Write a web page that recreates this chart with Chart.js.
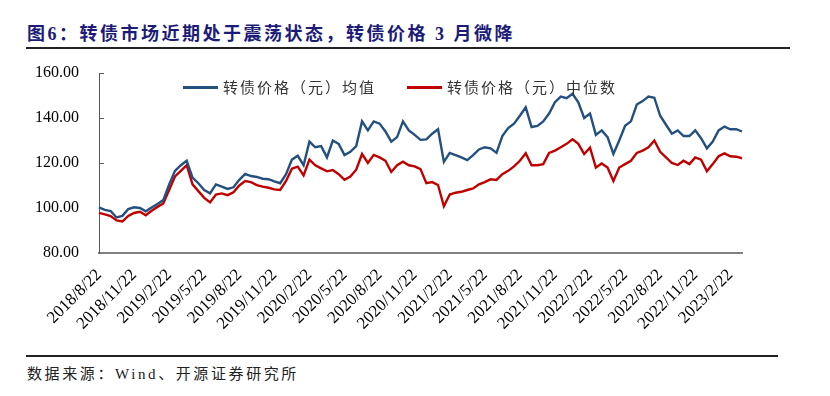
<!DOCTYPE html>
<html>
<head>
<meta charset="utf-8">
<script src="https://cdn.jsdelivr.net/npm/chart.js@4.4.0/dist/chart.umd.min.js"></script>
<style>
body { margin: 0; background: #fff; width: 830px; height: 396px; position: relative; overflow: hidden; }
#title { position: absolute; left: 27px; top: 19px; font: bold 18px "Liberation Serif", "Noto Sans CJK SC"; color: #1c1c78; letter-spacing: 2.5px; white-space: nowrap; }
#tline { position: absolute; left: 26px; top: 47px; width: 764px; height: 2px; background: #222; }
#wrap { position: absolute; left: 0; top: 0; width: 830px; height: 350px; }
#bline { position: absolute; left: 26px; top: 355px; width: 752px; height: 2px; background: #222; }
#src { position: absolute; left: 27px; top: 362px; font: 15px "Liberation Serif", "Noto Sans CJK SC"; color: #222; letter-spacing: 2.6px; white-space: nowrap; }
.leg { position: absolute; top: 77px; height: 20px; font: 15px "Noto Sans CJK SC"; color: #333; letter-spacing: 2px; white-space: nowrap; line-height: 20px; }
.leg i { display: inline-block; width: 35px; height: 3px; vertical-align: middle; margin-right: 5px; position: relative; top: -1px; }
</style>
</head>
<body>
<div id="title">图6：转债市场近期处于震荡状态，转债价格 3 月微降</div>
<div id="tline"></div>
<div id="wrap"><canvas id="c" width="830" height="350"></canvas></div>
<div class="leg" id="leg0" style="left:183px"><i></i><span></span></div>
<div class="leg" id="leg1" style="left:407px"><i></i><span></span></div>
<div id="bline"></div>
<div id="src">数据来源：Wind、开源证券研究所</div>
<script>
// 两条序列：转债价格均值 / 中位数（每月7日、22日各一个点）
var seriesNames = ['转债价格（元）均值', '转债价格（元）中位数'];
var seriesColors = ['#24507f', '#c00000'];

var tickLabels = ['2018/8/22', '2018/11/22', '2019/2/22', '2019/5/22', '2019/8/22', '2019/11/22',
    '2020/2/22', '2020/5/22', '2020/8/22', '2020/11/22', '2021/2/22', '2021/5/22',
    '2021/8/22', '2021/11/22', '2022/2/22', '2022/5/22', '2022/8/22', '2022/11/22', '2023/2/22'];

// 日期类别
var categories = ['2018/8/22'];
for (var yr = 2018, mo = 9; yr < 2023 || (yr == 2023 && mo <= 3);) {
    categories.push(yr + '/' + mo + '/7', yr + '/' + mo + '/22');
    mo++;
    if (mo > 12) { mo = 1; yr++; }
}

var meanValues = [
    100.3, 99.2, 98.6, 95.8, 96.5, 99.5, 100.3, 100.0, 98.5, 100.2,
    101.8, 103.5, 110.5, 116.5, 119.0, 121.0, 113.5, 111.0, 108.0, 106.5,
    110.5, 109.5, 108.5, 109.2, 112.5, 115.2, 114.2, 113.8, 113.0, 112.8,
    111.8, 111.0, 115.0, 121.5, 123.2, 119.0, 129.5, 127.0, 127.5, 122.5,
    130.0, 128.5, 123.5, 125.0, 127.5, 138.5, 134.5, 138.5, 137.5, 134.0,
    129.5, 131.5, 138.5, 134.5, 132.5, 130.3, 130.5, 133.0, 135.0, 120.5,
    124.5, 123.5, 122.5, 121.3, 123.5, 126.0, 127.0, 126.5, 124.5, 132.0,
    135.5, 137.5, 141.0, 144.8, 136.0, 136.5, 138.5, 142.0, 147.0, 149.5,
    148.8, 150.8, 147.0, 140.0, 142.0, 132.5, 134.5, 131.5, 124.0, 130.0,
    136.5, 138.5, 146.0, 147.5, 149.5, 149.0, 141.0, 137.0, 133.0, 134.5,
    132.0, 132.0, 134.5, 131.0, 126.5, 129.5, 134.5, 136.2, 135.0, 135.0,
    134.0
];

var medianValues = [
    97.8, 97.2, 96.4, 94.5, 94.0, 96.5, 97.8, 98.3, 96.8, 98.8,
    100.5, 102.0, 108.0, 114.0, 116.5, 119.0, 110.5, 107.5, 104.5, 102.5,
    106.0, 106.5, 105.7, 107.0, 110.0, 112.0, 111.5, 110.2, 109.5, 109.0,
    108.3, 108.0, 112.0, 117.5, 118.4, 114.5, 121.5, 119.0, 117.6, 116.3,
    116.9, 115.0, 112.5, 114.0, 117.0, 124.0, 120.0, 123.6, 122.5, 121.0,
    116.0, 119.0, 120.6, 119.0, 118.5, 117.3, 111.0, 111.5, 110.2, 100.8,
    106.0, 106.8, 107.2, 108.0, 108.7, 110.5, 111.5, 112.8, 112.5, 115.0,
    116.5, 118.5, 121.0, 124.3, 119.0, 119.0, 119.5, 124.5, 125.5, 127.0,
    128.5, 130.5, 128.5, 124.0, 126.8, 118.0, 119.8, 118.0, 112.0, 118.0,
    119.5, 121.0, 124.5, 125.5, 127.0, 130.0, 125.0, 122.5, 120.0, 119.1,
    121.0, 119.5, 122.5, 121.5, 116.3, 119.5, 123.0, 124.3, 123.0, 122.8,
    122.1
];

var yTicks = [80, 100, 120, 140, 160];

// 图例用html画在绘图区里面
for (var i = 0; i < 2; i++) {
    var leg = document.getElementById('leg' + i);
    leg.querySelector('i').style.background = seriesColors[i];
    leg.querySelector('span').textContent = seriesNames[i];
}

var ctx = document.getElementById('c').getContext('2d');
var c = new Chart(ctx, {
    type: 'line',
    data: {
        labels: categories,
        datasets: [
            {
                label: seriesNames[0],
                data: meanValues,
                borderColor: seriesColors[0],
                borderWidth: 2.4,
                pointRadius: 0,
                tension: 0
            },
            {
                label: seriesNames[1],
                data: medianValues,
                borderColor: seriesColors[1],
                borderWidth: 2.4,
                pointRadius: 0,
                tension: 0
            }
        ]
    },
    options: {
        responsive: false,
        animation: false,
        layout: { padding: { left: 0, top: 73, right: 88, bottom: 0 } },
        plugins: {
            legend: { display: false },
            tooltip: { enabled: false }
        },
        scales: {
            x: {
                type: 'category',
                grid: { display: false, drawTicks: false },
                border: { display: true, color: '#808080', width: 2 },
                ticks: {
                    autoSkip: false,
                    maxRotation: 45,
                    minRotation: 45,
                    padding: 12,
                    color: '#000',
                    font: { family: '"Liberation Serif"', size: 17 },
                    callback: function (val, idx) {
                        var lab = categories[idx];
                        return tickLabels.indexOf(lab) >= 0 ? lab : '';
                    }
                },
                afterFit: function (scale) { scale.height = 97; }
            },
            y: {
                min: 80,
                max: 160,
                afterBuildTicks: function (scale) {
                    scale.ticks = yTicks.map(function (v) { return { value: v }; });
                },
                grid: { display: true, drawOnChartArea: false, drawTicks: true, tickLength: -5, color: '#595959' },
                border: { display: true, color: '#595959', width: 1 },
                ticks: {
                    padding: 25,
                    color: '#000',
                    font: { family: '"Liberation Serif"', size: 16 },
                    callback: function (v) { return v.toFixed(2); }
                },
                afterFit: function (scale) { scale.width = 99; }
            }
        }
    }
});
</script>
</body>
</html>
